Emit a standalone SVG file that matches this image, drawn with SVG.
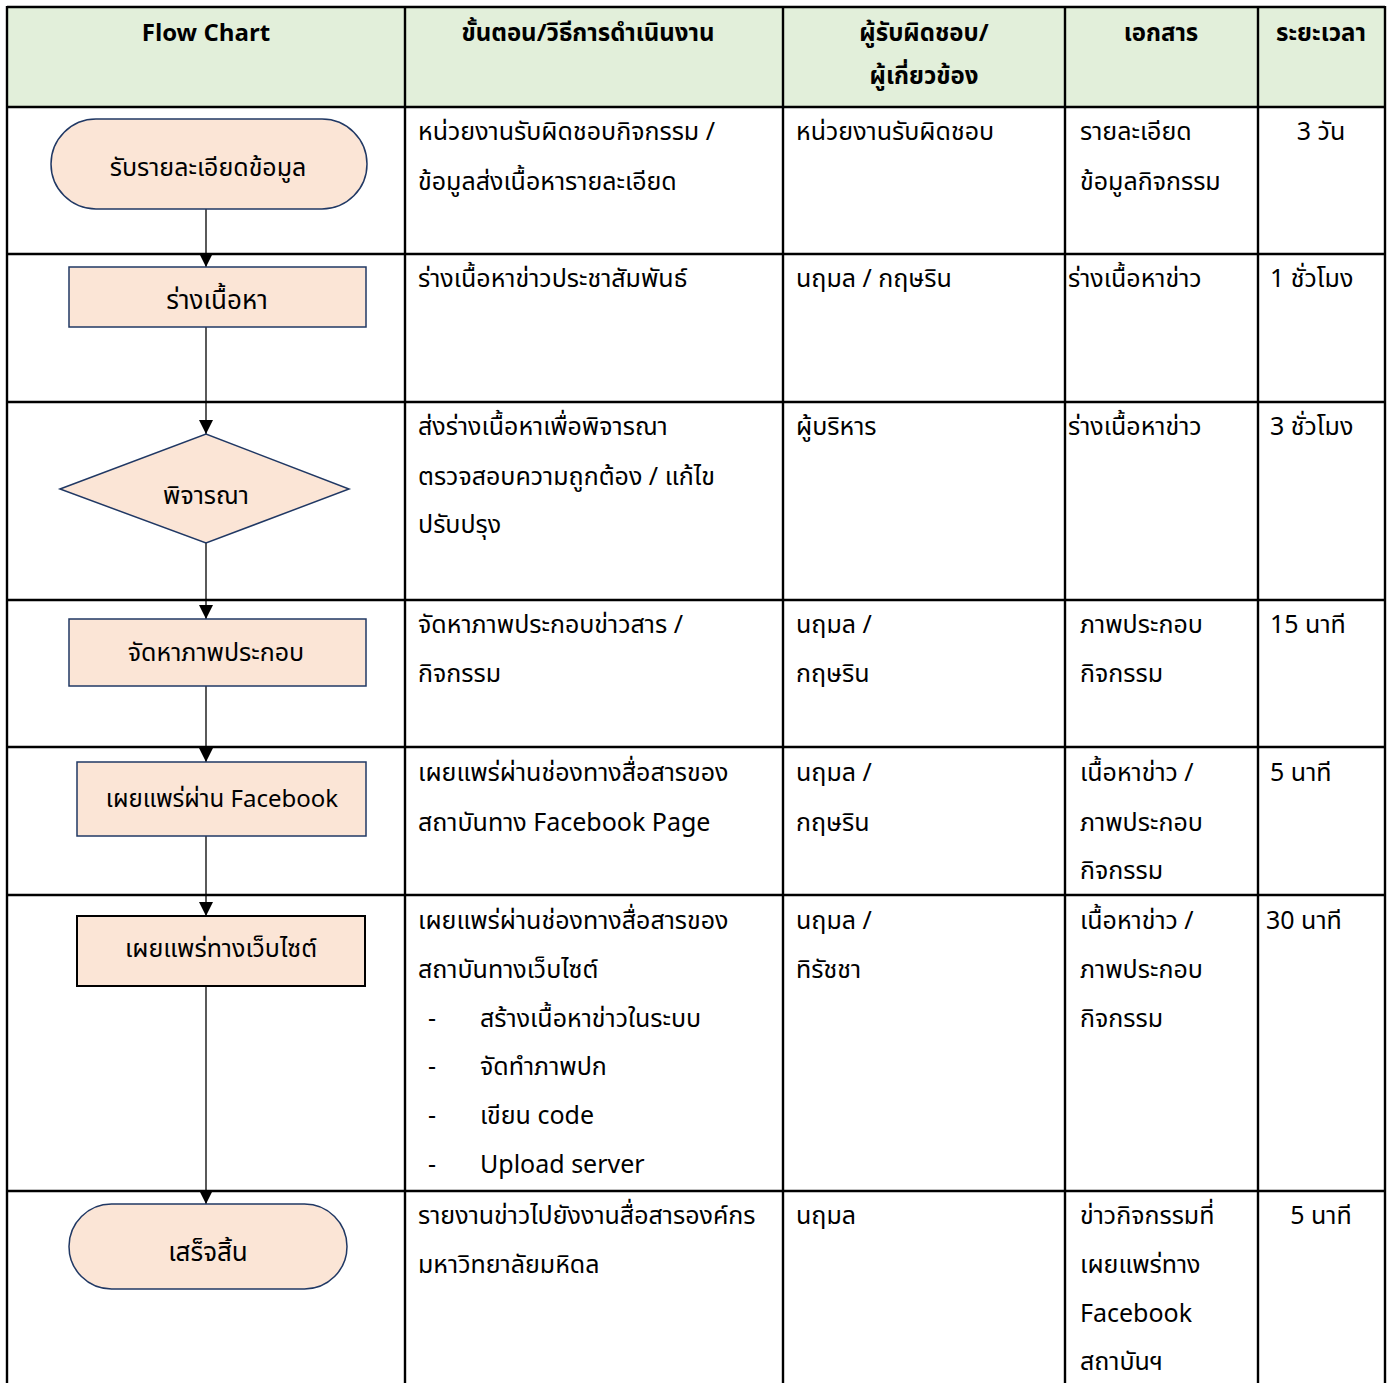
<svg xmlns="http://www.w3.org/2000/svg" width="1387" height="1383" viewBox="0 0 1387 1383">
<defs>
<marker id="arr" viewBox="0 0 14 14" refX="14" refY="7" markerWidth="14" markerHeight="14" markerUnits="userSpaceOnUse" orient="auto">
<path d="M0,0 L14,7 L0,14 z" fill="#000"/>
</marker>
<style>
text{font-family:"Noto Sans Thai","Leelawadee UI","Noto Sans","DejaVu Sans",sans-serif;fill:#000;font-size:25px}
.h{font-weight:bold;font-size:24px;text-anchor:middle}
.c{text-anchor:middle}
.n{font-size:25px;text-anchor:middle}
.node{fill:#FBE5D6;stroke:#203864;stroke-width:1.5}
.grid{stroke:#000;stroke-width:2.4;fill:none}
.conn{stroke:#000;stroke-width:1.3;fill:none}
</style>
</defs>
<rect x="0" y="0" width="1387" height="1383" fill="#fff"/>
<rect x="7" y="7" width="1378" height="100" fill="#E2EFDA"/>
<g id="table">
<line class="grid" x1="7" y1="7" x2="1385" y2="7"/>
<line class="grid" x1="7" y1="107" x2="1385" y2="107"/>
<line class="grid" x1="7" y1="254" x2="1385" y2="254"/>
<line class="grid" x1="7" y1="402" x2="1385" y2="402"/>
<line class="grid" x1="7" y1="600" x2="1385" y2="600"/>
<line class="grid" x1="7" y1="747" x2="1385" y2="747"/>
<line class="grid" x1="7" y1="895" x2="1385" y2="895"/>
<line class="grid" x1="7" y1="1191" x2="1385" y2="1191"/>
<line class="grid" x1="7" y1="6" x2="7" y2="1383"/>
<line class="grid" x1="405" y1="6" x2="405" y2="1383"/>
<line class="grid" x1="783" y1="6" x2="783" y2="1383"/>
<line class="grid" x1="1065" y1="6" x2="1065" y2="1383"/>
<line class="grid" x1="1258" y1="6" x2="1258" y2="1383"/>
<line class="grid" x1="1385" y1="6" x2="1385" y2="1383"/>
</g>
<g id="header">
<text class="h" x="206" y="41">Flow Chart</text>
<text class="h" x="588" y="41">ขั้นตอน/วิธีการดำเนินงาน</text>
<text class="h" x="924" y="41">ผู้รับผิดชอบ/</text>
<text class="h" x="924" y="84">ผู้เกี่ยวข้อง</text>
<text class="h" x="1161" y="41">เอกสาร</text>
<text class="h" x="1321" y="41">ระยะเวลา</text>
</g>
<g id="connectors">
<line class="conn" x1="206" y1="209" x2="206" y2="267" marker-end="url(#arr)"/>
<line class="conn" x1="206" y1="327" x2="206" y2="434" marker-end="url(#arr)"/>
<line class="conn" x1="206" y1="543" x2="206" y2="619" marker-end="url(#arr)"/>
<line class="conn" x1="206" y1="686" x2="206" y2="762" marker-end="url(#arr)"/>
<line class="conn" x1="206" y1="836" x2="206" y2="916" marker-end="url(#arr)"/>
<line class="conn" x1="206" y1="986" x2="206" y2="1204" marker-end="url(#arr)"/>
</g>
<g id="n1">
<rect class="node" x="51" y="119" width="316" height="90" rx="45"/>
<text class="n" x="208" y="176">รับรายละเอียดข้อมูล</text>
</g>
<g id="n2">
<rect class="node" x="69" y="267" width="297" height="60"/>
<text class="n" x="217" y="309" style="font-size:26px">ร่างเนื้อหา</text>
</g>
<g id="n3">
<polygon class="node" points="60,489 206,434 349,489 206,543"/>
<text class="n" x="206" y="504">พิจารณา</text>
</g>
<g id="n4">
<rect class="node" x="69" y="619" width="297" height="67"/>
<text class="n" x="216" y="661">จัดหาภาพประกอบ</text>
</g>
<g id="n5">
<rect class="node" x="77" y="762" width="289" height="74"/>
<text class="n" x="222" y="807" style="font-size:24px">เผยแพร่ผ่าน Facebook</text>
</g>
<g id="n6">
<rect class="node" x="77" y="916" width="288" height="70" style="stroke:#000;stroke-width:2"/>
<text class="n" x="221" y="957">เผยแพร่ทางเว็บไซต์</text>
</g>
<g id="n7">
<rect class="node" x="69" y="1204" width="278" height="85" rx="42.5"/>
<text class="n" x="208" y="1261" style="font-size:26px">เสร็จสิ้น</text>
</g>
<g id="cells">
<text x="418" y="140">หน่วยงานรับผิดชอบกิจกรรม /</text>
<text x="418" y="190">ข้อมูลส่งเนื้อหารายละเอียด</text>
<text x="796" y="140">หน่วยงานรับผิดชอบ</text>
<text x="1080" y="140">รายละเอียด</text>
<text x="1080" y="190">ข้อมูลกิจกรรม</text>
<text class="c" x="1321" y="140">3 วัน</text>

<text x="418" y="287">ร่างเนื้อหาข่าวประชาสัมพันธ์</text>
<text x="796" y="287">นฤมล / กฤษริน</text>
<text x="1068" y="287">ร่างเนื้อหาข่าว</text>
<text x="1270" y="287">1 ชั่วโมง</text>

<text x="418" y="435">ส่งร่างเนื้อหาเพื่อพิจารณา</text>
<text x="418" y="485">ตรวจสอบความถูกต้อง / แก้ไข</text>
<text x="418" y="533">ปรับปรุง</text>
<text x="796" y="435">ผู้บริหาร</text>
<text x="1068" y="435">ร่างเนื้อหาข่าว</text>
<text x="1270" y="435">3 ชั่วโมง</text>

<text x="418" y="633">จัดหาภาพประกอบข่าวสาร /</text>
<text x="418" y="682">กิจกรรม</text>
<text x="796" y="633">นฤมล /</text>
<text x="796" y="682">กฤษริน</text>
<text x="1080" y="633">ภาพประกอบ</text>
<text x="1080" y="682">กิจกรรม</text>
<text x="1270" y="633">15 นาที</text>

<text x="418" y="781">เผยแพร่ผ่านช่องทางสื่อสารของ</text>
<text x="418" y="831">สถาบันทาง Facebook Page</text>
<text x="796" y="781">นฤมล /</text>
<text x="796" y="831">กฤษริน</text>
<text x="1080" y="781">เนื้อหาข่าว /</text>
<text x="1080" y="831">ภาพประกอบ</text>
<text x="1080" y="879">กิจกรรม</text>
<text x="1270" y="781">5 นาที</text>

<text x="418" y="929">เผยแพร่ผ่านช่องทางสื่อสารของ</text>
<text x="418" y="978">สถาบันทางเว็บไซต์</text>
<text x="428" y="1027">-</text>
<text x="480" y="1027">สร้างเนื้อหาข่าวในระบบ</text>
<text x="428" y="1075">-</text>
<text x="480" y="1075">จัดทำภาพปก</text>
<text x="428" y="1124">-</text>
<text x="480" y="1124">เขียน code</text>
<text x="428" y="1173">-</text>
<text x="480" y="1173">Upload server</text>
<text x="796" y="929">นฤมล /</text>
<text x="796" y="978">ทิรัชชา</text>
<text x="1080" y="929">เนื้อหาข่าว /</text>
<text x="1080" y="978">ภาพประกอบ</text>
<text x="1080" y="1027">กิจกรรม</text>
<text x="1266" y="929">30 นาที</text>

<text x="418" y="1224">รายงานข่าวไปยังงานสื่อสารองค์กร</text>
<text x="418" y="1273">มหาวิทยาลัยมหิดล</text>
<text x="796" y="1224">นฤมล</text>
<text x="1080" y="1224">ข่าวกิจกรรมที่</text>
<text x="1080" y="1273">เผยแพร่ทาง</text>
<text x="1080" y="1322">Facebook</text>
<text x="1080" y="1370">สถาบันฯ</text>
<text class="c" x="1321" y="1224">5 นาที</text>
</g>
</svg>
